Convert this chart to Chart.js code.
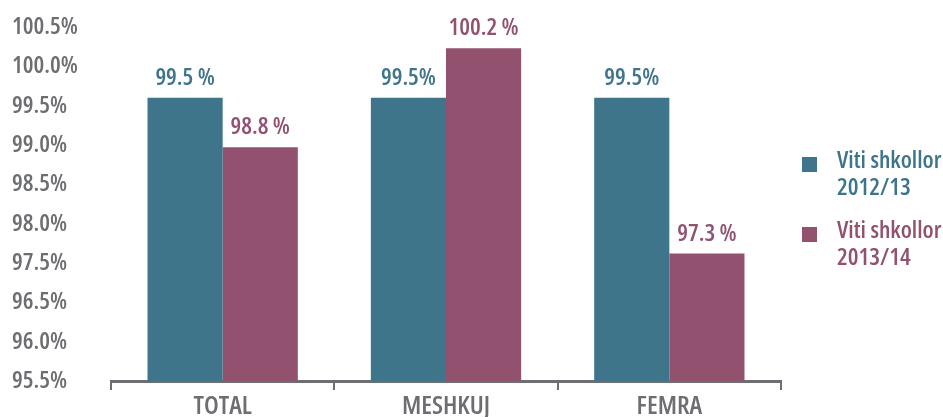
<!DOCTYPE html>
<html>
<head>
<meta charset="utf-8">
<script src="https://cdn.jsdelivr.net/npm/chart.js@4.4.1/dist/chart.umd.min.js"></script>
<style>
  html, body { margin: 0; padding: 0; background: #fff; }
  #wrap { width: 943px; height: 417px; }
</style>
</head>
<body>
<div id="wrap"><canvas id="chart"></canvas></div>
<script>
// chart data
const categories = ['TOTAL', 'MESHKUJ', 'FEMRA'];
const series2012 = [99.5, 99.5, 99.5];
const series2013 = [98.8, 100.2, 97.3];
const labels2012 = ['99.5 %', '99.5%', '99.5%'];
const labels2013 = ['98.8 %', '100.2 %', '97.3 %'];
const legendLabels = [['Viti shkollor', '2012/13'], ['Viti shkollor', '2013/14']];
// tick labels as printed in the source (evenly spaced, 97.0% is missing)
const tickLabels = ['95.5%', '96.0%', '96.5%', '97.5%', '98.0%', '98.5%', '99.0%', '99.5%', '100.0%', '100.5%'];

const TEAL = '#3e758b';
const PURPLE = '#91516f';
const GREY = '#6d6e71';
const FAMILY = '"Open Sans", "Roboto Condensed", sans-serif';
const WEIGHT = '600 condensed'; // font-stretch rides along in the weight slot
const font = size => WEIGHT + ' ' + size + 'px ' + FAMILY;

// bar value labels
const valueLabels = {
    id: 'valueLabels',
    afterDatasetsDraw(chart) {
        const ctx = chart.ctx;
        ctx.save();
        ctx.font = font(24);
        ctx.textAlign = 'center';
        ctx.textBaseline = 'alphabetic';
        chart.data.datasets.forEach((ds, i) => {
            const meta = chart.getDatasetMeta(i);
            ctx.fillStyle = ds.backgroundColor;
            meta.data.forEach((bar, j) => {
                ctx.fillText(ds.valueText[j], bar.x, bar.y - 13);
            });
        });
        ctx.restore();
    }
};

// legend on the right, two-line labels
const sideLegend = {
    id: 'sideLegend',
    afterDraw(chart) {
        const ctx = chart.ctx;
        ctx.save();
        ctx.font = font(24);
        ctx.textBaseline = 'alphabetic';
        ctx.textAlign = 'left';
        const baselines = [168, 238];
        chart.data.datasets.forEach((ds, i) => {
            const y = baselines[i];
            ctx.fillStyle = ds.backgroundColor;
            ctx.fillRect(802, y - 11, 15, 15);
            legendLabels[i].forEach((line, k) => {
                ctx.fillText(line, 837, y + k * 27);
            });
        });
        ctx.restore();
    }
};

function draw() {
    new Chart(document.getElementById('chart').getContext('2d'), {
        type: 'bar',
        data: {
            labels: categories,
            datasets: [
                {
                    label: 'Viti shkollor 2012/13',
                    data: series2012,
                    valueText: labels2012,
                    backgroundColor: TEAL,
                    categoryPercentage: 0.673,
                    barPercentage: 1.0
                },
                {
                    label: 'Viti shkollor 2013/14',
                    data: series2013,
                    valueText: labels2013,
                    backgroundColor: PURPLE,
                    categoryPercentage: 0.673,
                    barPercentage: 1.0
                }
            ]
        },
        options: {
            responsive: true,
            maintainAspectRatio: false,
            animation: false,
            layout: {
                padding: { left: 12, right: 162, top: 27, bottom: 0 }
            },
            plugins: {
                legend: { display: false },
                tooltip: { enabled: false }
            },
            scales: {
                x: {
                    border: { display: true, color: GREY, width: 3 },
                    grid: {
                        display: true,
                        offset: true,
                        drawOnChartArea: false,
                        drawTicks: true,
                        tickLength: 9,
                        color: GREY,
                        lineWidth: 2
                    },
                    ticks: {
                        color: GREY,
                        padding: 1,
                        font: { family: FAMILY, weight: WEIGHT, size: 26 }
                    },
                    afterFit(axis) { axis.height = 36; }
                },
                y: {
                    min: 95.5,
                    max: 100.5,
                    border: { display: false },
                    grid: { display: false, drawTicks: false },
                    afterBuildTicks(axis) {
                        const step = (axis.max - axis.min) / (tickLabels.length - 1);
                        axis.ticks = tickLabels.map((_, i) => ({ value: axis.min + i * step }));
                    },
                    ticks: {
                        color: GREY,
                        crossAlign: 'far',
                        padding: 0,
                        font: { family: FAMILY, weight: WEIGHT, size: 24 },
                        callback: (value, index) => tickLabels[index]
                    },
                    afterFit(axis) { axis.width = 99; }
                }
            }
        },
        plugins: [valueLabels, sideLegend]
    });
}

document.fonts.load(font(24)).then(draw, draw);
</script>
</body>
</html>
